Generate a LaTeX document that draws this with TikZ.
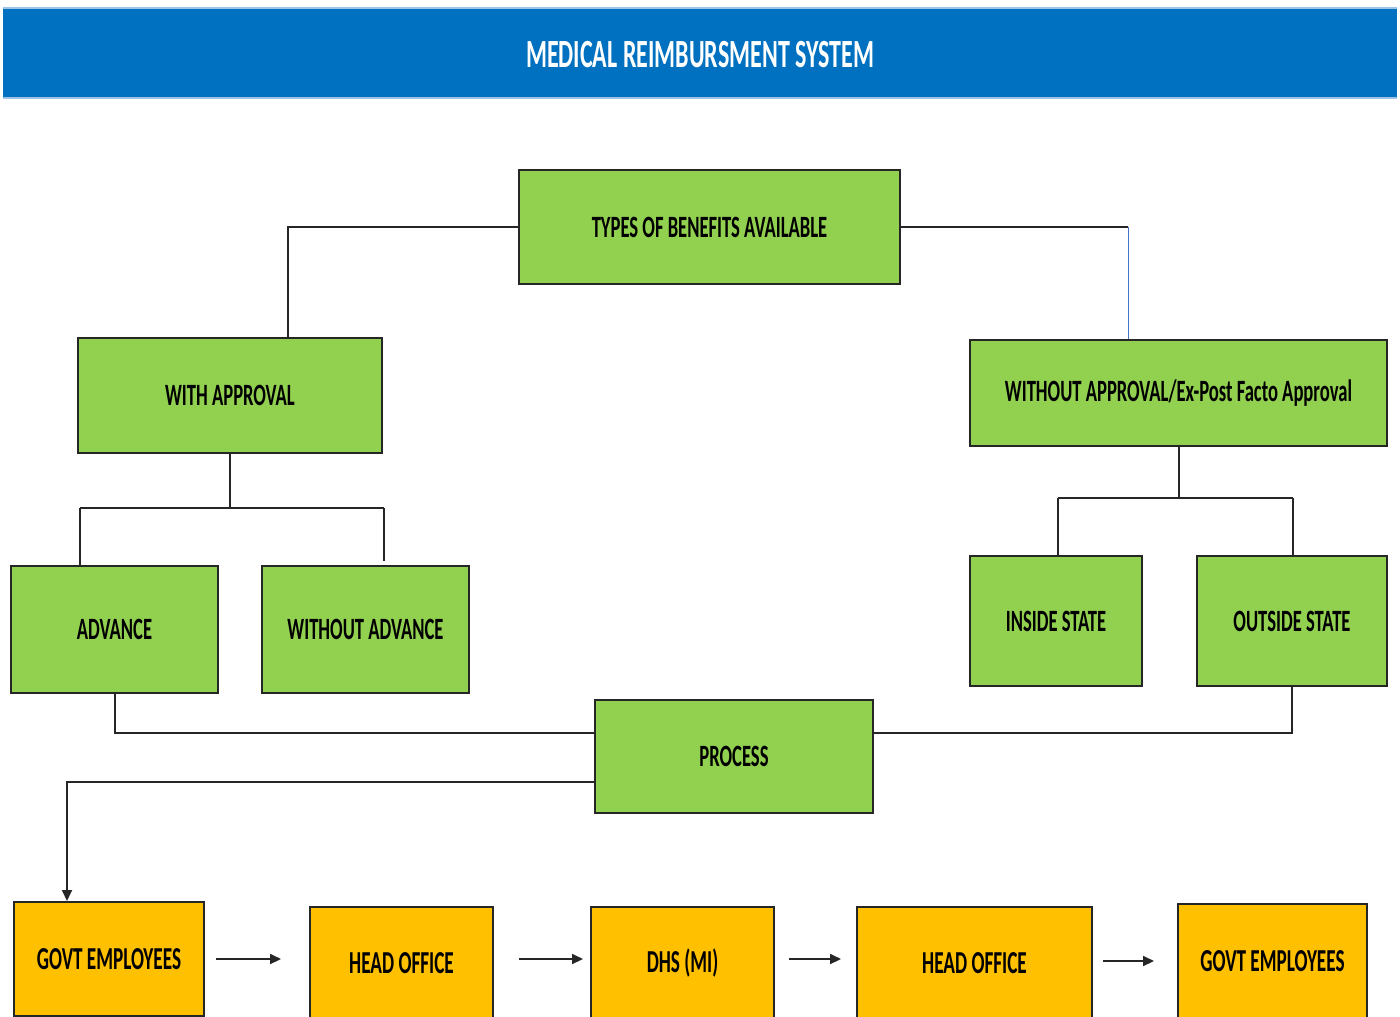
\documentclass[tikz,border=0pt]{standalone}
\usepackage{fontspec}
\usetikzlibrary{arrows.meta}
\newfontfamily\cf[FakeStretch=0.6]{Carlito}
\definecolor{hdrblue}{HTML}{0070C0}
\definecolor{hdredge}{HTML}{9DC3E6}
\definecolor{boxgreen}{HTML}{92D050}
\definecolor{boxorange}{HTML}{FFC000}
\definecolor{linkblue}{HTML}{4472C4}
\definecolor{linegray}{HTML}{262626}
\tikzset{
  x=1pt, y=1pt,
  gbox/.style={draw=linegray, line width=2pt, fill=boxgreen, inner sep=0pt,
    font=\cf\bfseries\fontsize{31}{31}\selectfont, text=black},
  obox/.style={draw=linegray, line width=2pt, fill=boxorange, inner sep=0pt,
    font=\cf\bfseries\fontsize{32}{32}\selectfont, text=black},
  link/.style={draw=linegray, line width=2pt},
  bluelink/.style={draw=linkblue, line width=1pt},
  arr/.style={link, -{Triangle[length=11pt,width=10pt]}}
}
\begin{document}
\begin{tikzpicture}
\useasboundingbox (0,0) rectangle (1400,-1017);
\clip (0,0) rectangle (1400,-1017);
% header
\fill[hdrblue] (3,-8) rectangle (1397,-98);
\draw[hdredge, line width=1.5pt] (3,-8) -- (1397,-8);
\draw[hdredge, line width=1.5pt] (3,-98) -- (1397,-98);
\node[text=white, font=\cf\bfseries\fontsize{40}{40}\selectfont] (title) at (700,-55) {MEDICAL REIMBURSMENT SYSTEM};

% green boxes
\node[gbox, minimum width=381, minimum height=114] (types) at (709.5,-227) {TYPES OF BENEFITS AVAILABLE};
\node[gbox, minimum width=304, minimum height=115] (wa) at (230,-395.5) {WITH APPROVAL};
\node[gbox, minimum width=417, minimum height=106] (woa) at (1178.5,-393) {WITHOUT APPROVAL/Ex-Post Facto Approval};
\node[gbox, minimum width=207, minimum height=127] (adv) at (114.5,-629.5) {ADVANCE};
\node[gbox, minimum width=207, minimum height=127] (wadv) at (365.5,-629.5) {WITHOUT ADVANCE};
\node[gbox, minimum width=172, minimum height=130] (ins) at (1056,-621) {INSIDE STATE};
\node[gbox, minimum width=190, minimum height=130] (outs) at (1292,-621) {OUTSIDE STATE};
\node[gbox, minimum width=278, minimum height=113] (proc) at (734,-756.5) {PROCESS};

% orange boxes
\node[obox, minimum width=190, minimum height=114] (g1) at (109,-959) {GOVT EMPLOYEES};
\node[obox, minimum width=183, minimum height=112] (h1) at (401.5,-963) {HEAD OFFICE};
\node[obox, minimum width=183, minimum height=112] (dhs) at (682.5,-963) {DHS (MI)};
\node[obox, minimum width=235, minimum height=112] (h2) at (974.5,-963) {HEAD OFFICE};
\node[obox, minimum width=189, minimum height=114] (g2) at (1272.5,-961) {GOVT EMPLOYEES};

% junction coordinates
\coordinate (jl) at (288,-227);
\coordinate (jr) at (1128,-227);
\coordinate (wal) at (80,-508);
\coordinate (war) at (384,-508);
\coordinate (woal) at (1058,-498);
\coordinate (woar) at (1293,-498);
\coordinate (pl) at (595,-733);
\coordinate (pr) at (873,-733);
\coordinate (pd) at (595,-782);
\coordinate (gd) at (67,-782);

% connectors
\draw[link] (types.west) -- (jl) -- (jl |- wa.north);
\draw[link] (types.east) -- (jr);
\draw[bluelink] (jr) -- (jr |- woa.north);

\draw[link] (wa.south) -- (wa.south |- wal);
\draw[link] (wal) -- (war);
\draw[link] (wal) -- (wal |- adv.north);
\draw[link] (war) -- ([yshift=4]war |- wadv.north);

\draw[link] (woa.south) -- (woa.south |- woal);
\draw[link] (woal) -- (woar);
\draw[link] (woal) -- (woal |- ins.north);
\draw[link] (woar) -- (woar |- outs.north);

\draw[link] (adv.south) |- (pl);
\draw[link] (outs.south) |- (pr);
\draw[arr] (pd) -- (gd) -- (gd |- g1.north);

\draw[arr] ([xshift=11]g1.east) -- ([xshift=-28]h1.west |- g1.east);
\draw[arr] ([xshift=25,yshift=4]h1.east) -- ([xshift=-7,yshift=4]dhs.west);
\draw[arr] ([xshift=14,yshift=4]dhs.east) -- ([xshift=-15,yshift=4]h2.west);
\draw[arr] ([xshift=10,yshift=2]h2.east) -- ([xshift=-23]g2.west);
\end{tikzpicture}
\end{document}
